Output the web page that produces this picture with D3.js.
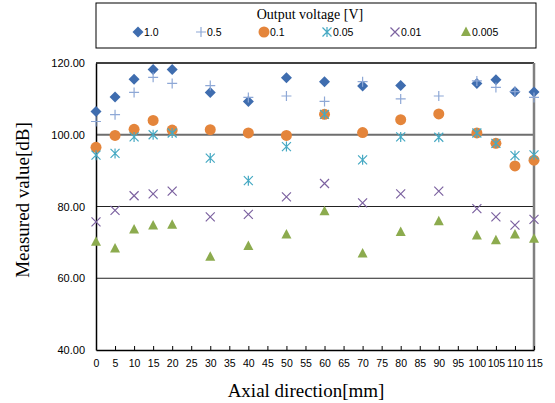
<!DOCTYPE html>
<html>
<head>
<meta charset="utf-8">
<script src="https://cdn.jsdelivr.net/npm/d3@7"></script>
<style>
body { margin: 0; background: #fff; }
</style>
</head>
<body>
<div id="container"></div>
<script>
// axial positions [mm]
var positions = [0, 5, 10, 15, 20, 30, 40, 50, 60, 70, 80, 90, 100, 105, 110, 115];
var xTicks = d3.range(0, 120, 5);
var yTicks = [40, 60, 80, 100, 120];

// measured values [dB] for each output voltage
var v1_0   = [106.5, 110.5, 115.5, 118.2, 118.2, 111.8, 109.3, 115.9, 114.8, 113.6, 113.7, null, 114.3, 115.3, 112.0, 111.9];
var v0_5   = [103.7, 105.6, 111.8, 116.0, 114.3, 113.7, 110.4, 110.8, 109.3, 114.8, 110.0, 110.8, 115.0, 113.2, 112.0, 110.4];
var v0_1   = [96.5, 99.8, 101.5, 104.0, 101.3, 101.4, 100.5, 99.8, 105.7, 100.6, 104.2, 105.8, 100.5, 97.6, 91.3, 92.9];
var v0_05  = [94.3, 94.8, 99.4, 100.0, 100.5, 93.5, 87.2, 96.7, 105.7, 93.0, 99.4, 99.3, 100.5, 97.6, 94.2, 94.4];
var v0_01  = [75.7, 78.9, 83.0, 83.5, 84.3, 77.1, 77.8, 82.7, 86.4, 81.0, 83.5, 84.3, 79.4, 77.1, 74.8, 76.4];
var v0_005 = [70.2, 68.3, 73.6, 74.7, 74.9, 66.0, 69.0, 72.2, 78.7, 66.9, 72.9, 75.9, 71.9, 70.6, 72.2, 71.0];

var seriesNames = ["1.0", "0.5", "0.1", "0.05", "0.01", "0.005"];
var seriesValues = [v1_0, v0_5, v0_1, v0_05, v0_01, v0_005];
var seriesColors = ["#3f6daf", "#8ea8d6", "#e4853b", "#46a9c3", "#7c62a0", "#8cab4e"];
var seriesShapes = ["diamond", "plus", "circle", "asterisk", "cross", "triangle"];

var svg = d3.select("#container")
  .append("svg")
  .attr("width", 555)
  .attr("height", 403);

var x = d3.scaleLinear().domain([0, 115]).range([96, 534]);
var y = d3.scaleLinear().domain([40, 120]).range([350, 63]);

// gridlines
svg.selectAll(".grid").data([60, 80]).enter().append("line")
  .attr("x1", 96).attr("x2", 534)
  .attr("y1", function(d){ return y(d); })
  .attr("y2", function(d){ return y(d); })
  .attr("stroke", "#222").attr("stroke-width", 1);
svg.append("line")
  .attr("x1", 96).attr("x2", 534)
  .attr("y1", y(100)).attr("y2", y(100))
  .attr("stroke", "#6e6e6e").attr("stroke-width", 2);
svg.append("line")
  .attr("x1", 96).attr("x2", 534)
  .attr("y1", y(120)).attr("y2", y(120))
  .attr("stroke", "#000").attr("stroke-width", 1.5);
svg.append("line")
  .attr("x1", 534).attr("x2", 534)
  .attr("y1", y(120)).attr("y2", y(40))
  .attr("stroke", "#808080").attr("stroke-width", 2.5);

// axes
var xAxis = svg.append("g")
  .attr("transform", "translate(0," + y(40) + ")")
  .call(d3.axisBottom(x).tickValues(xTicks).tickSizeInner(-4).tickSizeOuter(0).tickPadding(10));
xAxis.select(".domain").attr("stroke", "#000").attr("stroke-width", 1.5);
xAxis.selectAll("text")
  .attr("font-family", "Liberation Sans, Arial, sans-serif")
  .attr("font-size", 10.5).attr("fill", "#000");

var yAxis = svg.append("g")
  .attr("transform", "translate(96,0)")
  .call(d3.axisLeft(y).tickValues(yTicks).tickSize(0).tickPadding(11).tickFormat(d3.format(".2f")));
yAxis.select(".domain").attr("stroke", "#000").attr("stroke-width", 1.5);
yAxis.selectAll("text")
  .attr("font-family", "Liberation Sans, Arial, sans-serif")
  .attr("font-size", 11).attr("fill", "#000");

// axis titles
svg.append("text")
  .text("Axial direction[mm]")
  .attr("x", 306).attr("y", 397)
  .attr("text-anchor", "middle")
  .attr("font-family", "Liberation Serif, Times New Roman, serif")
  .attr("font-size", 19);
svg.append("text")
  .text("Measured value[dB]")
  .attr("transform", "translate(29,200) rotate(-90)")
  .attr("text-anchor", "middle")
  .attr("font-family", "Liberation Serif, Times New Roman, serif")
  .attr("font-size", 19);

function shapePath(shape) {
  if (shape == "diamond") {
    return "M0,-5.5 L5.5,0 L0,5.5 L-5.5,0 Z";
  } else if (shape == "plus") {
    return "M-5,0 L5,0 M0,-5 L0,5";
  } else if (shape == "cross") {
    return "M-4.5,-4.5 L4.5,4.5 M-4.5,4.5 L4.5,-4.5";
  } else if (shape == "asterisk") {
    return "M-4.5,-4.5 L4.5,4.5 M-4.5,4.5 L4.5,-4.5 M0,-5 L0,5";
  } else if (shape == "triangle") {
    return "M0,-5.5 L5,4 L-5,4 Z";
  }
  return null;
}

function drawMarker(g, shape, color) {
  if (shape == "circle") {
    g.append("circle").attr("r", 5.5).attr("fill", color);
  } else if (shape == "plus" || shape == "cross" || shape == "asterisk") {
    g.append("path").attr("d", shapePath(shape))
      .attr("fill", "none").attr("stroke", color).attr("stroke-width", 1.2);
  } else {
    g.append("path").attr("d", shapePath(shape)).attr("fill", color);
  }
}

// points
seriesValues.forEach(function(vals, i) {
  var pts = positions.map(function(p, j){ return {x: p, v: vals[j]}; })
    .filter(function(d){ return d.v != null; });
  var g = svg.append("g");
  pts.forEach(function(d) {
    var m = g.append("g").attr("transform", "translate(" + x(d.x) + "," + y(d.v) + ")");
    drawMarker(m, seriesShapes[i], seriesColors[i]);
  });
});

// legend
svg.append("rect")
  .attr("x", 96).attr("y", 3).attr("width", 440).attr("height", 45)
  .attr("fill", "#fff").attr("stroke", "#000").attr("stroke-width", 1);
svg.append("text")
  .text("Output voltage [V]")
  .attr("x", 310).attr("y", 19)
  .attr("text-anchor", "middle")
  .attr("font-family", "Liberation Serif, Times New Roman, serif")
  .attr("font-size", 14);
var legendX = [138, 201, 264, 327, 395, 466];
seriesNames.forEach(function(name, i) {
  var m = svg.append("g").attr("transform", "translate(" + legendX[i] + ",32)");
  drawMarker(m, seriesShapes[i], seriesColors[i]);
  svg.append("text")
    .text(name)
    .attr("x", legendX[i] + 6).attr("y", 36)
    .attr("font-family", "Liberation Sans, Arial, sans-serif")
    .attr("font-size", 10.5);
});
</script>
</body>
</html>
